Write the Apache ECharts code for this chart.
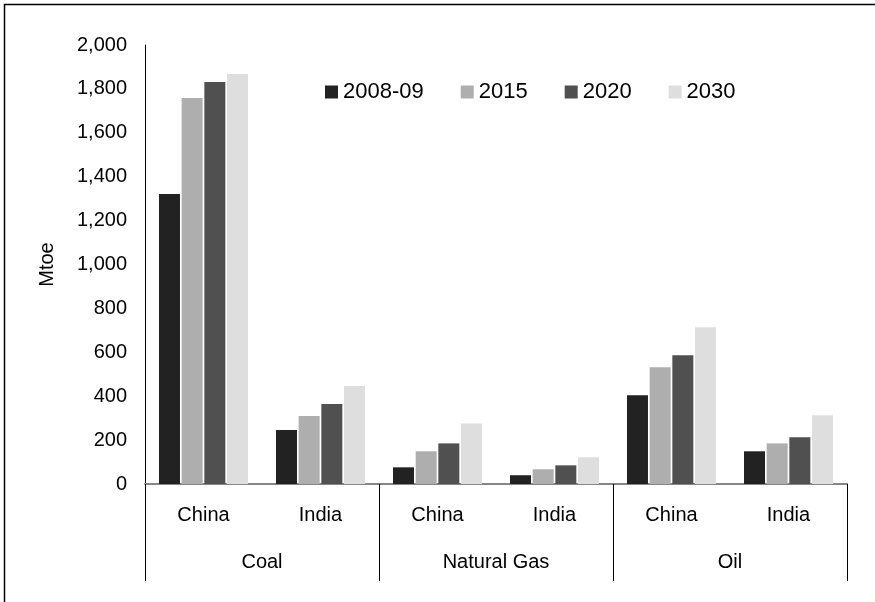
<!DOCTYPE html>
<html>
<head>
<meta charset="utf-8">
<script src="https://cdn.jsdelivr.net/npm/echarts@6/dist/echarts.min.js"></script>
<style>
	html, body { margin: 0; padding: 0; background: #fff; }
	#chart { width: 875px; height: 602px; }
</style>
</head>
<body>
<div id="chart"></div>
<script>
var countries = ['China', 'India', 'China', 'India', 'China', 'India'];
var fuels = ['Coal', 'Natural Gas', 'Oil'];
var years = ['2008-09', '2015', '2020', '2030'];
var y2008 = [1321, 246, 76, 40, 404, 149];
var y2015 = [1758, 310, 149, 67, 532, 185];
var y2020 = [1831, 364, 185, 85, 586, 213];
var y2030 = [1868, 446, 276, 122, 714, 313];
var colors = ['#222222', '#aeaeae', '#505050', '#dedede'];

var font = "'Liberation Sans', Arial, sans-serif";
var chart = echarts.init(document.getElementById('chart'), null, { renderer: 'canvas', devicePixelRatio: 1 });

var seriesData = [y2008, y2015, y2020, y2030];
var series = years.map(function (name, i) {
	return {
		name: name,
		type: 'bar',
		xAxisIndex: 0,
		barWidth: 21,
		barGap: '8%',
		itemStyle: { color: colors[i] },
		data: seriesData[i]
	};
});

var option = {
	animation: false,
	backgroundColor: '#fff',
	color: colors,
	textStyle: { fontFamily: font },
	graphic: [{
		type: 'rect',
		shape: { x: 4.5, y: 4.5, width: 1000, height: 1000 },
		style: { fill: 'none', stroke: '#000', lineWidth: 1.5 }
	}],
	legend: {
		data: years,
		left: 320,
		top: 76,
		itemWidth: 13,
		itemHeight: 13,
		itemGap: 37,
		icon: 'rect',
		textStyle: { fontSize: 22, color: '#000', fontFamily: font }
	},
	grid: { left: 145, right: 28, top: 45, bottom: 118 },
	xAxis: [
		{
			type: 'category',
			data: countries,
			position: 'bottom',
			axisLine: { lineStyle: { color: '#868686', width: 2 } },
			axisTick: { show: false },
			axisLabel: { fontSize: 20, color: '#000', margin: 21, fontFamily: font }
		},
		{
			type: 'category',
			data: fuels,
			position: 'bottom',
			axisLine: { show: false },
			axisTick: { show: true, length: 97, lineStyle: { color: '#000', width: 1 } },
			axisLabel: { fontSize: 20, color: '#000', margin: 68, fontFamily: font }
		}
	],
	yAxis: {
		type: 'value',
		min: 0,
		max: 2000,
		interval: 200,
		name: 'Mtoe',
		nameLocation: 'middle',
		nameGap: 88,
		nameTextStyle: { fontSize: 20, color: '#000', fontFamily: font },
		axisLine: { show: true, lineStyle: { color: '#000', width: 1 } },
		axisTick: { show: false },
		splitLine: { show: false },
		axisLabel: {
			fontSize: 20,
			color: '#000',
			margin: 18,
			fontFamily: font,
			formatter: function (v) { return v.toLocaleString('en-US'); }
		}
	},
	series: series
};

chart.setOption(option);
</script>
</body>
</html>
